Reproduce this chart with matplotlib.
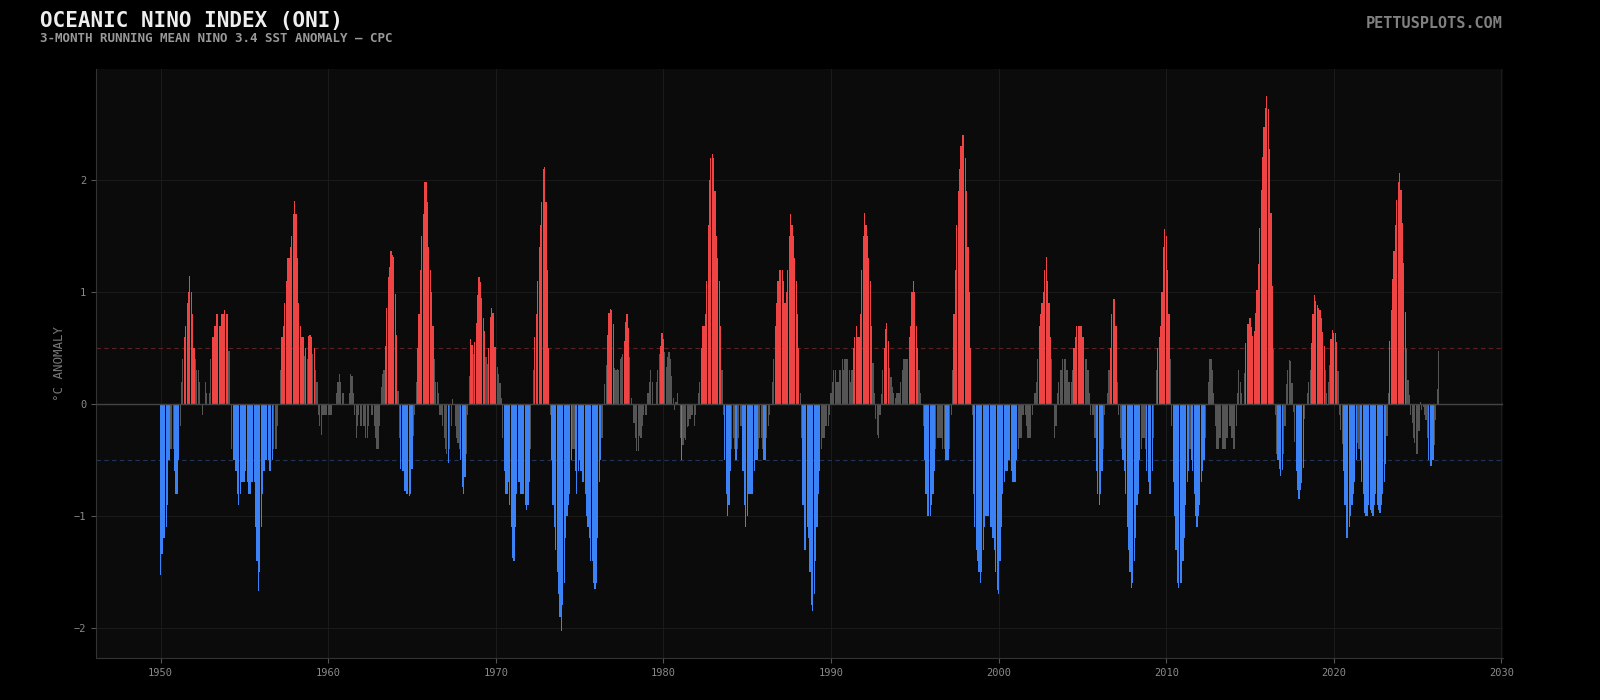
import numpy as np
import matplotlib
matplotlib.use('Agg')
import matplotlib.pyplot as plt

# ONI values, one row per year (DJF, JFM, ... NDJ), 1950 -> early 2026
oni_1950s = [
    -1.53, -1.34, -1.2, -1.2, -1.1, -0.9, -0.5, -0.4, -0.4, -0.4, -0.6, -0.8,
    -0.8, -0.5, -0.2, 0.2, 0.4, 0.6, 0.7, 0.9, 1.0, 1.14, 1.0, 0.8,
    0.5, 0.4, 0.3, 0.3, 0.2, 0.0, -0.1, 0.0, 0.2, 0.1, 0.0, 0.1,
    0.4, 0.6, 0.6, 0.7, 0.8, 0.8, 0.7, 0.7, 0.8, 0.8, 0.84, 0.8,
    0.8, 0.47, 0.0, -0.4, -0.5, -0.5, -0.6, -0.8, -0.9, -0.8, -0.7, -0.7,
    -0.7, -0.6, -0.7, -0.8, -0.8, -0.7, -0.7, -0.7, -1.1, -1.4, -1.67, -1.5,
    -1.1, -0.8, -0.6, -0.5, -0.5, -0.5, -0.6, -0.6, -0.5, -0.4, -0.4, -0.4,
    -0.2, 0.0, 0.3, 0.6, 0.7, 0.9, 1.1, 1.3, 1.3, 1.4, 1.5, 1.7,
    1.81, 1.7, 1.3, 0.9, 0.7, 0.6, 0.6, 0.43, 0.5, 0.4, 0.61, 0.62,
    0.6, 0.45, 0.5, 0.3, 0.2, -0.1, -0.2, -0.28, -0.1, -0.1, -0.1, -0.1,
]
oni_1960s = [
    -0.1, -0.1, -0.1, 0.0, 0.0, 0.0, 0.1, 0.2, 0.27, 0.2, 0.1, 0.1,
    0.0, 0.0, 0.0, 0.1, 0.27, 0.25, 0.1, -0.1, -0.3, -0.2, -0.1, -0.2,
    -0.2, -0.2, -0.2, -0.3, -0.3, -0.2, 0.0, -0.1, -0.1, -0.2, -0.3, -0.4,
    -0.4, -0.2, 0.15, 0.27, 0.3, 0.52, 0.86, 1.13, 1.22, 1.37, 1.33, 1.31,
    0.98, 0.62, 0.12, -0.3, -0.58, -0.6, -0.6, -0.78, -0.8, -0.8, -0.82, -0.8,
    -0.58, -0.29, -0.1, 0.2, 0.5, 0.8, 1.2, 1.5, 1.7, 1.98, 1.98, 1.8,
    1.4, 1.2, 1.0, 0.7, 0.4, 0.2, 0.2, 0.1, -0.1, -0.1, -0.2, -0.3,
    -0.4, -0.45, -0.53, -0.4, -0.2, 0.04, 0.0, -0.2, -0.3, -0.35, -0.4, -0.5,
    -0.74, -0.8, -0.65, -0.45, -0.1, 0.25, 0.58, 0.53, 0.45, 0.55, 0.72, 0.97,
    1.13, 1.09, 0.95, 0.77, 0.65, 0.42, 0.36, 0.5, 0.78, 0.86, 0.81, 0.51,
]
oni_1970s = [
    0.51, 0.33, 0.27, 0.19, 0.05, -0.3, -0.6, -0.8, -0.8, -0.7, -0.9, -1.1,
    -1.38, -1.4, -1.1, -0.8, -0.7, -0.7, -0.8, -0.8, -0.8, -0.9, -0.95, -0.9,
    -0.7, -0.4, 0.0, 0.3, 0.6, 0.8, 1.1, 1.4, 1.6, 1.8, 2.1, 2.12,
    1.8, 1.2, 0.5, -0.1, -0.5, -0.9, -1.1, -1.3, -1.5, -1.7, -1.9, -2.03,
    -1.8, -1.6, -1.2, -1.0, -0.9, -0.8, -0.5, -0.4, -0.4, -0.6, -0.8, -0.6,
    -0.5, -0.6, -0.7, -0.7, -0.8, -1.0, -1.1, -1.2, -1.4, -1.4, -1.6, -1.65,
    -1.6, -1.2, -0.7, -0.5, -0.3, 0.0, 0.18, 0.35, 0.62, 0.81, 0.85, 0.84,
    0.71, 0.32, 0.3, 0.31, 0.3, 0.4, 0.42, 0.45, 0.56, 0.73, 0.8, 0.68,
    0.42, 0.05, 0.0, -0.17, -0.3, -0.42, -0.42, -0.29, -0.3, -0.2, -0.1, -0.1,
    -0.1, 0.1, 0.2, 0.3, 0.2, 0.0, 0.0, 0.2, 0.3, 0.45, 0.52, 0.63,
]
oni_1980s = [
    0.58, 0.46, 0.33, 0.42, 0.46, 0.4, 0.25, 0.05, -0.05, 0.02, 0.1, 0.0,
    -0.3, -0.5, -0.37, -0.3, -0.32, -0.21, -0.2, -0.13, -0.1, -0.1, -0.2, -0.1,
    0.0, 0.1, 0.2, 0.5, 0.7, 0.7, 0.8, 1.1, 1.6, 2.0, 2.2, 2.23,
    2.2, 1.9, 1.5, 1.3, 1.1, 0.7, 0.3, -0.1, -0.5, -0.8, -1.0, -0.9,
    -0.6, -0.4, -0.3, -0.4, -0.5, -0.4, -0.3, -0.2, -0.2, -0.6, -0.9, -1.1,
    -1.0, -0.8, -0.8, -0.8, -0.8, -0.6, -0.5, -0.5, -0.4, -0.3, -0.3, -0.4,
    -0.5, -0.5, -0.3, -0.2, -0.1, 0.0, 0.2, 0.4, 0.7, 0.9, 1.1, 1.2,
    1.2, 1.2, 1.1, 0.9, 1.0, 1.2, 1.5, 1.7, 1.6, 1.5, 1.3, 1.1,
    0.8, 0.5, 0.1, -0.3, -0.9, -1.3, -1.3, -1.1, -1.2, -1.5, -1.8, -1.85,
    -1.7, -1.4, -1.1, -0.8, -0.6, -0.4, -0.3, -0.3, -0.2, -0.2, -0.2, -0.1,
]
oni_1990s = [
    0.1, 0.2, 0.3, 0.3, 0.2, 0.2, 0.3, 0.3, 0.4, 0.3, 0.4, 0.4,
    0.4, 0.3, 0.2, 0.3, 0.5, 0.6, 0.7, 0.6, 0.6, 0.8, 1.2, 1.5,
    1.71, 1.6, 1.5, 1.3, 1.1, 0.7, 0.37, 0.1, -0.13, -0.28, -0.3, -0.1,
    0.09, 0.3, 0.5, 0.67, 0.72, 0.56, 0.32, 0.24, 0.15, 0.1, 0.05, 0.1,
    0.1, 0.1, 0.2, 0.3, 0.4, 0.4, 0.4, 0.4, 0.6, 0.7, 1.0, 1.1,
    1.0, 0.7, 0.5, 0.3, 0.1, 0.0, -0.2, -0.5, -0.8, -1.0, -1.0, -1.0,
    -0.9, -0.8, -0.6, -0.4, -0.3, -0.3, -0.3, -0.3, -0.4, -0.4, -0.5, -0.5,
    -0.5, -0.4, -0.1, 0.3, 0.8, 1.2, 1.6, 1.9, 2.1, 2.3, 2.4, 2.4,
    2.2, 1.9, 1.4, 1.0, 0.5, -0.1, -0.8, -1.1, -1.3, -1.4, -1.5, -1.6,
    -1.5, -1.3, -1.1, -1.0, -1.0, -1.0, -1.1, -1.1, -1.2, -1.3, -1.5, -1.66,
]
oni_2000s = [
    -1.7, -1.4, -1.1, -0.8, -0.7, -0.6, -0.6, -0.5, -0.5, -0.6, -0.7, -0.7,
    -0.7, -0.5, -0.4, -0.3, -0.3, -0.1, -0.1, -0.1, -0.2, -0.3, -0.3, -0.3,
    -0.1, 0.0, 0.1, 0.2, 0.4, 0.7, 0.8, 0.9, 1.0, 1.2, 1.31, 1.1,
    0.9, 0.6, 0.4, 0.0, -0.3, -0.2, 0.1, 0.2, 0.3, 0.3, 0.4, 0.4,
    0.4, 0.3, 0.2, 0.2, 0.2, 0.3, 0.5, 0.6, 0.7, 0.7, 0.7, 0.7,
    0.6, 0.6, 0.4, 0.4, 0.3, 0.1, -0.1, -0.1, -0.1, -0.3, -0.6, -0.8,
    -0.9, -0.8, -0.6, -0.4, -0.1, 0.0, 0.1, 0.3, 0.5, 0.8, 0.94, 0.94,
    0.7, 0.2, -0.1, -0.3, -0.4, -0.5, -0.6, -0.8, -1.1, -1.3, -1.5, -1.64,
    -1.6, -1.4, -1.2, -0.9, -0.8, -0.5, -0.4, -0.3, -0.3, -0.4, -0.6, -0.7,
    -0.8, -0.8, -0.6, -0.3, 0.0, 0.3, 0.5, 0.6, 0.7, 1.0, 1.4, 1.56,
]
oni_2010s = [
    1.5, 1.2, 0.8, 0.4, -0.2, -0.7, -1.0, -1.3, -1.6, -1.64, -1.6, -1.6,
    -1.4, -1.2, -0.9, -0.7, -0.6, -0.4, -0.5, -0.6, -0.8, -1.0, -1.1, -1.0,
    -0.9, -0.7, -0.6, -0.5, -0.3, 0.0, 0.2, 0.4, 0.4, 0.3, 0.1, -0.2,
    -0.4, -0.4, -0.3, -0.3, -0.4, -0.4, -0.4, -0.3, -0.3, -0.2, -0.2, -0.3,
    -0.4, -0.4, -0.2, 0.1, 0.3, 0.2, 0.1, 0.0, 0.28, 0.54, 0.71, 0.71,
    0.77, 0.69, 0.61, 0.65, 0.81, 1.02, 1.25, 1.57, 1.91, 2.21, 2.47, 2.64,
    2.75, 2.63, 2.28, 1.71, 1.05, 0.49, -0.1, -0.45, -0.5, -0.58, -0.64, -0.59,
    -0.45, -0.2, 0.18, 0.3, 0.39, 0.38, 0.19, -0.07, -0.34, -0.6, -0.77, -0.85,
    -0.77, -0.71, -0.57, -0.13, 0.0, 0.1, 0.2, 0.3, 0.54, 0.8, 0.97, 0.92,
    0.88, 0.86, 0.84, 0.77, 0.64, 0.52, 0.3, 0.1, 0.2, 0.35, 0.58, 0.66,
]
oni_2020s = [
    0.63, 0.63, 0.55, 0.29, -0.1, -0.23, -0.36, -0.6, -0.9, -1.2, -1.2, -1.1,
    -1.0, -0.9, -0.8, -0.7, -0.5, -0.35, -0.4, -0.5, -0.7, -0.8, -0.97, -1.0,
    -1.0, -0.9, -0.95, -0.97, -1.0, -0.9, -0.8, -0.9, -0.95, -0.97, -0.9, -0.8,
    -0.7, -0.54, -0.29, 0.1, 0.56, 0.84, 1.12, 1.37, 1.6, 1.82, 1.98, 2.06,
    1.91, 1.62, 1.26, 0.82, 0.49, 0.21, 0.08, -0.1, -0.17, -0.3, -0.35, -0.45,
    -0.45, -0.24, 0.02, -0.05, -0.03, -0.1, -0.14, -0.3, -0.5, -0.55, -0.55, -0.5,
    -0.37, -0.14, 0.13, 0.47,
]

RED = '#ef4444'
BLUE = '#3b82f6'
GRAY = '#555555'
FONT = 'DejaVu Sans Mono'

oni = np.concatenate([oni_1950s, oni_1960s, oni_1970s, oni_1980s,
                      oni_1990s, oni_2000s, oni_2010s, oni_2020s])
t = 1950 + np.arange(len(oni)) / 12.0
colors = np.where(oni >= 0.5, RED, np.where(oni <= -0.5, BLUE, GRAY))

plt.rcParams['font.family'] = FONT
fig = plt.figure(figsize=(16, 7), dpi=100, facecolor='black')
ax = fig.add_axes([0.06, 0.06, 0.8795, 0.841])
ax.set_facecolor('#0b0b0b')

ax.bar(t, oni, width=0.85 / 12, color=colors, linewidth=0, zorder=2)
ax.axhline(0, color='#444444', lw=1, zorder=3)
ax.axhline(0.5, color='#5a2222', lw=0.8, ls=(0, (4, 3)), zorder=1)
ax.axhline(-0.5, color='#22335a', lw=0.8, ls=(0, (4, 3)), zorder=1)

ax.set_axisbelow(True)
ax.grid(True, color='#1a1a1a', lw=0.8)
for side in ['top', 'right']:
    ax.spines[side].set_visible(False)
for side in ['left', 'bottom']:
    ax.spines[side].set_color('#333333')
ax.tick_params(colors='#555555', labelcolor='#8a8a8a', labelsize=7.5, length=3.5)
ax.set_xticks(np.arange(1950, 2031, 10))
ax.set_ylabel('°C ANOMALY', color='#777777', fontsize=9, labelpad=5.5)

fig.text(0.025, 0.962, 'OCEANIC NINO INDEX (ONI)', color='#eeeeee',
         fontsize=15, fontweight='bold', va='baseline')
fig.text(0.025, 0.9404, '3-MONTH RUNNING MEAN NINO 3.4 SST ANOMALY — CPC',
         color='#999999', fontsize=9, fontweight='bold', va='baseline')
fig.text(0.939, 0.9596, 'PETTUSPLOTS.COM', color='#808080', fontsize=11,
         fontweight='bold', ha='right', va='baseline')

fig.savefig('out.png', dpi=100, facecolor='black')
